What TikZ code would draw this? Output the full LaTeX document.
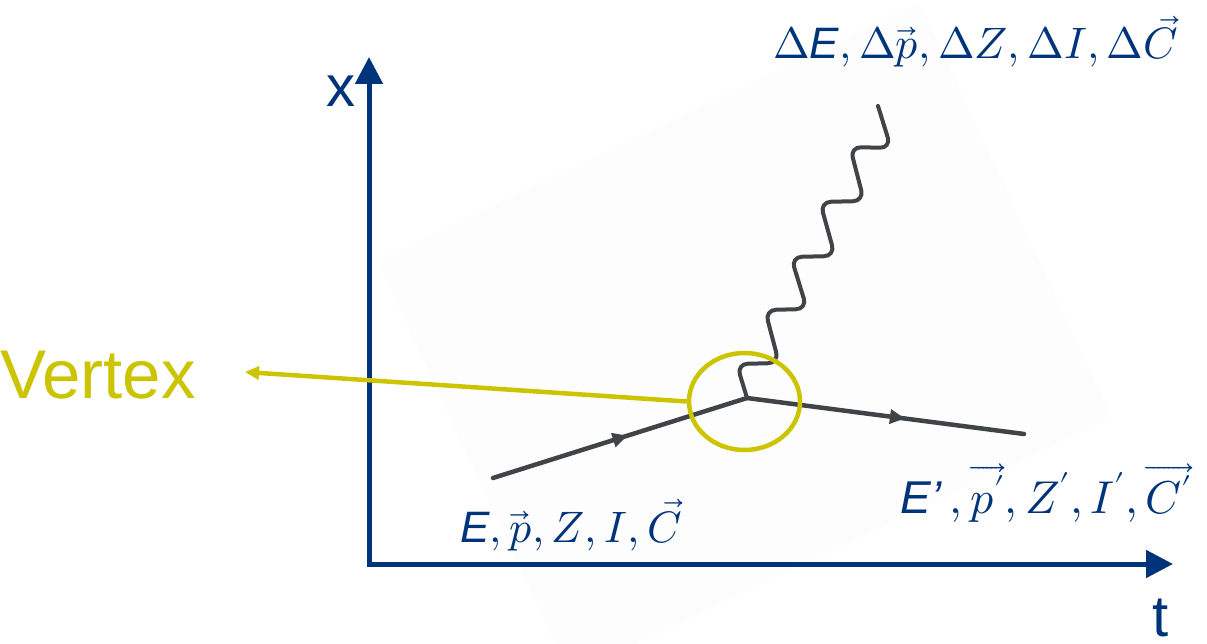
\documentclass[tikz,border=0pt]{standalone}
\usepackage{fontspec}
\usepackage{unicode-math}
\setsansfont{Liberation Sans}
\usetikzlibrary{arrows.meta,decorations.markings,shapes.geometric}
\definecolor{axisblue}{RGB}{0,52,122}
\definecolor{fermgray}{RGB}{64,68,72}
\definecolor{vyellow}{RGB}{204,196,0}
\definecolor{bgpatch}{RGB}{253,253,253}
\tikzset{
  axisline/.style={line width=5pt, draw=axisblue, line join=miter,
    arrows={Triangle[length=27pt,width=27pt]-Triangle[length=27pt,width=27pt]}},
  axislabel/.style={text=axisblue, font=\sffamily\fontsize{58}{60}\selectfont, inner sep=0pt, anchor=base},
  mathlabel/.style={text=axisblue, font=\fontsize{44}{52}\selectfont, inner sep=0pt, anchor=base west},
  fermion/.style={draw=fermgray, line width=4.5pt, line cap=round,
    postaction={decorate},
    decoration={markings, mark=at position #1 with {\arrow[fermgray]{Triangle[length=15pt,width=14pt]}}}},
  photon/.style={draw=fermgray, line width=4pt, line cap=round, line join=round, rounded corners=11pt},
  vertexring/.style={ellipse, draw=vyellow, line width=4.5pt, minimum width=111pt, minimum height=97pt, inner sep=0pt},
  pointer/.style={draw=vyellow, line width=4.5pt, -{Triangle[length=14pt,width=13pt]}},
  vertexlabel/.style={text=vyellow, font=\sffamily\fontsize{69}{72}\selectfont, inner sep=0pt, anchor=base west},
}
\newcommand{\sfE}{\textsf{\itshape E}}
\begin{document}
\begin{tikzpicture}[x=1pt,y=-1pt]
\useasboundingbox (0,0) rectangle (1207,644);
\begin{scope}
  \clip (0,0) rectangle (1207,644);
  \fill[bgpatch] (377,260) -- (919,2) -- (1112,418) -- (570,676) -- cycle;
\end{scope}

% axes
\coordinate (xtip) at (369,57);
\coordinate (ttip) at (1173,564);
\draw[axisline] (xtip) |- (ttip);
\node[axislabel] (xl) at (341,107) {x};
\node[axislabel] (tl) at (1161,636) {t};

% fermion lines
\coordinate (v) at (747,398);
\coordinate (fin) at (493,478);
\coordinate (fout) at (1024,434);
\draw[fermion=0.53] (fin) -- (v);
\draw[fermion=0.57] (v) -- (fout);

% photon
\coordinate (gend) at (878,106);
\draw[photon] (v) -- (736.7,364) -- (779,363) -- (765,310) -- (807,309) -- (791,257) -- (835,256)
  -- (820,202) -- (864,201) -- (850,147) -- (891,148) -- (gend);

% vertex marker
\node[vertexring] (vx) at (744.5,401.5) {};
\coordinate (vend) at (245,372);
\draw[pointer] (vx.west) -- (vend);
\node[vertexlabel] (vl) at (0,398) {Vertex};

% labels
\node[mathlabel] (top) at (773,59) {$\Delta$\sfE$,\Delta\vec{p},\Delta Z,\Delta I,\Delta\vec{C}$};
\node[mathlabel] (bl) at (460,542) {\sfE$,\vec{p},Z,I,\vec{C}$};
\node[mathlabel, font=\fontsize{46}{52}\selectfont] (br) at (900,513) {\sfE\textsf{\itshape ’}\,$,\overrightarrow{p'},Z',I',\overrightarrow{C'}$};
\end{tikzpicture}
\end{document}
